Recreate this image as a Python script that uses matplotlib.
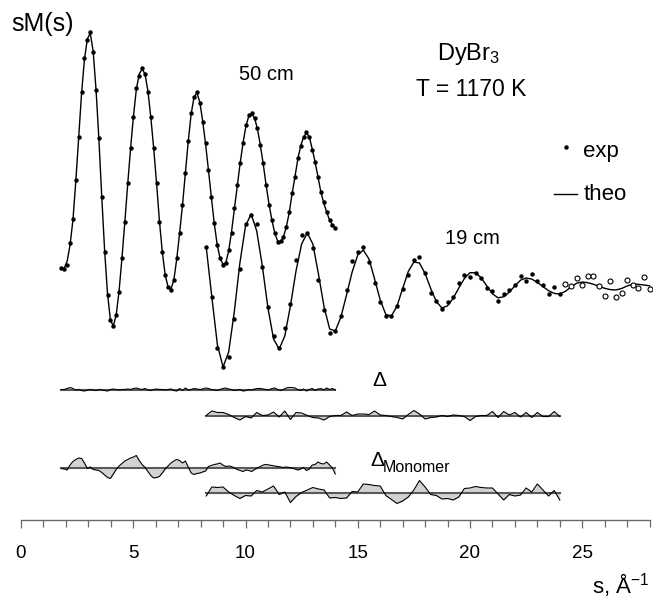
import numpy as np
import matplotlib.pyplot as plt
from matplotlib.lines import Line2D
from matplotlib.ticker import MultipleLocator

plt.rcParams['font.family'] = ['Liberation Sans', 'DejaVu Sans']
plt.rcParams['mathtext.fontset'] = 'custom'
plt.rcParams['mathtext.rm'] = 'Liberation Sans'
plt.rcParams['mathtext.it'] = 'Liberation Sans:italic'

W, H = 653, 599

# 50 cm camera distance, s = 1.8 .. 14.0
exp50 = [-8.3, -8.4, -8.0, -5.8, -3.4, 0.5, 4.8, 9.3, 12.7, 14.5,
         15.3, 13.3, 9.5, 4.7, -1.2, -6.7, -11.0, -13.5, -14.1, -13.0,
         -10.7, -7.3, -3.7, 0.2, 3.7, 6.8, 9.7, 10.9, 11.7, 11.1,
         9.3, 6.8, 3.7, 0.2, -3.7, -6.7, -9.0, -10.2, -10.5, -9.5,
         -7.3, -4.8, -2.0, 1.2, 4.4, 7.2, 8.8, 9.3, 8.2, 6.3,
         4.2, 1.5, -1.2, -3.8, -6.0, -7.3, -8.0, -7.8, -6.5, -4.8,
         -2.3, 0.0, 2.2, 4.2, 6.0, 7.0, 7.2, 6.7, 5.7, 4.0,
         2.2, 0.0, -2.0, -3.5, -4.8, -5.7, -5.6, -5.2, -4.2, -2.7,
         -0.8, 0.8, 2.7, 3.9, 4.8, 5.3, 4.8, 3.5, 2.3, 0.8,
         -0.7, -1.7, -2.7, -3.5, -4.0, -4.3]
theo50 = [-8.4, -8.3, -7.6, -6.0, -3.5, 0.4, 4.8, 9.2, 12.6, 14.6,
          15.2, 13.4, 9.6, 4.6, -1.2, -6.6, -10.9, -13.5, -14.1, -13.0,
          -10.6, -7.3, -3.7, 0.1, 3.7, 6.9, 9.6, 11.1, 11.6, 11.1,
          9.4, 6.8, 3.7, 0.2, -3.6, -6.7, -9.0, -10.2, -10.4, -9.5,
          -7.4, -4.8, -2.0, 1.2, 4.4, 7.1, 8.8, 9.2, 8.3, 6.4,
          4.1, 1.5, -1.2, -3.8, -5.9, -7.3, -7.9, -7.8, -6.6, -4.7,
          -2.4, -0.1, 2.2, 4.2, 5.9, 6.9, 7.1, 6.7, 5.6, 4.0,
          2.1, 0.0, -1.9, -3.5, -4.8, -5.6, -5.7, -5.2, -4.2, -2.8,
          -0.9, 0.8, 2.6, 3.9, 4.8, 5.2, 4.8, 3.6, 2.3, 0.8,
          -0.7, -1.8, -2.7, -3.5, -4.0, -4.3]

# 19 cm camera distance, s = 8.25 .. 28.0 (fit only up to s = 24)
exp19 = [3.9, -1.1, -6.2, -8.1, -7.1, -3.3, 1.7, 6.2, 7.1, 6.2,
         1.9, -2.1, -5.0, -6.2, -4.2, -1.8, 2.6, 5.1, 5.3, 3.8,
         0.6, -2.4, -4.7, -4.5, -3.0, -0.4, 2.5, 3.4, 3.9, 2.4,
         0.3, -1.6, -3.0, -3.0, -2.0, -0.3, 1.1, 2.6, 2.9, 1.3,
         -0.7, -1.5, -2.3, -1.6, -1.1, 0.3, 1.1, 0.9, 1.3, 0.8,
         -0.2, -0.5, -1.5, -0.8, -0.4, 0.1, 1.0, 0.5, 1.2, 0.5,
         0.1, -0.8, -0.1, -0.8, 0.2, 0.0, 0.8, 0.1, 1.0, 1.0,
         0.0, -1.0, 0.5, -1.1, -0.7, 0.6, 0.1, -0.2, 0.9, -0.3]
theo19 = [3.9, -1.1, -5.9, -8.1, -6.6, -2.6, 2.3, 6.0, 7.2, 5.5,
          2.0, -2.2, -5.3, -6.3, -5.0, -2.0, 1.5, 4.2, 5.3, 4.2,
          1.2, -2.1, -4.3, -4.5, -3.1, -0.9, 1.4, 3.1, 3.6, 2.7,
          0.7, -1.4, -2.85, -3.0, -2.0, -0.25, 1.45, 2.4, 2.3, 1.25,
          -0.25, -1.56, -2.2, -1.98, -1.23, -0.2, 0.75, 1.33, 1.33, 0.81,
          0.0, -0.78, -1.18, -1.08, -0.62, 0.03, 0.58, 0.8, 0.69, 0.37,
          -0.06, -0.47, -0.74, -0.8, -0.53, -0.1, 0.28, 0.4, 0.33, 0.17,
          -0.03, -0.23, -0.36, -0.4, -0.25, 0.0, 0.18, 0.17, 0.1, 0.02]
n_fit19 = 64

# residuals exp - theo
delta50 = [0.0, 0.0, 0.1, 0.2, 0.1, -0.05, 0.0, -0.1, -0.15, -0.05,
           0.0, -0.05, -0.1, 0.0, -0.05, -0.1, -0.15, 0.0, 0.05, 0.0,
           -0.05, 0.0, 0.0, 0.05, 0.0, 0.1, 0.15, 0.05, 0.0, 0.1,
           -0.05, -0.1, 0.0, 0.05, 0.0, 0.0, -0.05, 0.0, 0.05, -0.1,
           -0.15, 0.1, -0.1, 0.15, -0.05, 0.0, 0.1, 0.05, 0.0, 0.05,
           0.15, 0.1, 0.0, -0.05, -0.1, 0.0, 0.1, 0.15, 0.05, 0.0,
           -0.1, -0.05, 0.0, -0.15, -0.1, 0.0, -0.05, 0.05, 0.1, 0.1,
           0.05, 0.0, -0.05, 0.1, 0.15, 0.0, -0.1, 0.0, 0.15, 0.2,
           0.2, 0.15, 0.0, -0.1, 0.05, -0.15, 0.0, 0.1, -0.1, 0.05,
           0.1, -0.05, 0.15, 0.0, 0.1, -0.05]
delta19 = [0.0, 0.45, 0.3, 0.3, 0.1, -0.2, -0.45, -0.1, -0.25, 0.3,
           0.0, 0.05, 0.35, -0.15, 0.45, -0.4, 0.3, 0.25, 0.0, -0.2,
           -0.25, -0.45, -0.1, 0.0, 0.0, 0.35, 0.0, 0.15, 0.15, 0.1,
           0.45, 0.05, 0.0, -0.1, -0.2, -0.35, 0.1, 0.5, 0.15, -0.35,
           -0.2, -0.15, 0.0, -0.1, 0.05, 0.0, -0.1, -0.5, -0.1, 0.0,
           0.0, 0.4, -0.2, 0.4, 0.05, 0.3, -0.15, 0.3, -0.2, 0.3,
           -0.1, -0.1, 0.4, -0.1]
mono50 = [-0.05, -0.1, -0.2, 0.3, 0.65, 0.85, 1.0, 0.95, 0.5, -0.05,
          0.1, -0.15, -0.2, -0.25, -0.45, -0.7, -0.95, -1.05, -0.6, -0.15,
          0.2, 0.45, 0.7, 0.85, 1.0, 1.1, 1.25, 0.75, 0.35, 0.05,
          -0.35, -0.75, -1.0, -0.95, -0.85, -0.5, -0.1, 0.2, 0.5, 0.7,
          0.85, 0.75, 0.5, 0.7, 0.1, -0.5, -0.65, -0.55, -0.5, -0.4,
          -0.3, 0.15, 0.25, 0.35, 0.4, 0.5, 0.3, 0.15, 0.2, 0.15,
          0.0, -0.15, -0.25, -0.35, -0.2, -0.25, -0.35, -0.15, 0.0, 0.15,
          0.3, 0.35, 0.3, 0.25, 0.2, 0.15, 0.1, 0.05, 0.1, 0.05,
          0.0, -0.1, -0.2, -0.1, 0.05, -0.25, -0.1, 0.3, 0.35, 0.6,
          0.45, 0.4, 0.6, 0.3, 0.0, -0.6]
mono19 = [-0.3, 0.6, 0.55, 0.6, 0.1, -0.25, -0.55, -0.25, -0.3, 0.25,
          0.1, 0.4, 0.7, -0.15, 0.1, -0.95, -0.35, 0.05, 0.3, 0.55,
          0.4, 0.3, -0.5, -0.45, -0.55, -0.5, 0.15, 0.1, 0.9, 0.85,
          0.75, 0.7, -0.25, -0.65, -1.05, -0.8, -0.4, 0.3, 1.25, 0.6,
          -0.15, -0.25, -0.6, -0.55, -0.7, -0.4, 0.45, 0.5, 0.65, 0.55,
          0.5, 0.5, -0.1, -0.7, -0.15, -0.3, -0.2, 0.5, 0.1, 0.9,
          0.3, -0.3, 0.25, -0.7]

s50 = np.linspace(1.8, 14.0, len(exp50))
s19 = np.linspace(8.25, 28.0, len(exp19))

off50, off19 = 33.45, 23.35
base_d50, base_d19, base_m50, base_m19 = 13.0, 10.4, 5.15, 2.65

fig = plt.figure(figsize=(W / 100, H / 100), dpi=100)
ax = fig.add_axes([21 / W, 1 - 519.5 / H, 628.6 / W, 519.5 / H])
ax.set_xlim(0, 28)
ax.set_ylim(0, 51.95)


def curve(s, exp, theo, off, nfit):
    ax.plot(s, off + np.array(theo), color='k', lw=1.0, clip_on=False)
    ax.plot(s[:nfit], off + np.array(exp[:nfit]), 'o', color='k', ms=3.2,
            mew=0, clip_on=False)
    if nfit < len(s):
        ax.plot(s[nfit:], off + np.array(exp[nfit:]), 'o', mfc='white',
                mec='k', ms=3.6, mew=0.8, clip_on=False)


def residual(s, d, base):
    y = base + np.array(d)
    ax.fill_between(s, base, y, color='#d2d2d2', lw=0)
    ax.plot([s[0], s[-1]], [base, base], color='#5a5a5a', lw=1.5)
    ax.plot(s, y, color='k', lw=0.8)


curve(s50, exp50, theo50, off50, len(s50))
curve(s19, exp19, theo19, off19, n_fit19)

residual(s50, delta50, base_d50)
residual(s19[:n_fit19], delta19, base_d19)
residual(s50, mono50, base_m50)
residual(s19[:n_fit19], mono19, base_m19)

for side in ['top', 'left', 'right']:
    ax.spines[side].set_visible(False)
ax.spines['bottom'].set_color('#6a6a6a')
ax.spines['bottom'].set_linewidth(1.0)
ax.set_yticks([])
ax.set_xticks(range(0, 26, 5))
ax.xaxis.set_minor_locator(MultipleLocator(1))
ax.tick_params(axis='x', which='both', direction='out', color='#6a6a6a',
               width=0.9, labelsize=13.5, pad=13)
ax.tick_params(axis='x', which='major', length=5.5)
ax.tick_params(axis='x', which='minor', length=5)


def ftxt(x, y, s, **kw):
    fig.text(x / W, 1 - y / H, s, **kw)


ftxt(11, 24, 'sM(s)', fontsize=18, va='center', ha='left')
ftxt(266, 74, '50 cm', fontsize=14.5, va='center', ha='center')
ftxt(437, 60, r'DyBr$_\mathregular{3}$', fontsize=17, va='baseline', ha='left')
ftxt(471, 89, 'T = 1170 K', fontsize=16.5, va='center', ha='center')
ftxt(472, 239, '19 cm', fontsize=14.5, va='center', ha='center')
ftxt(583, 151, 'exp', fontsize=16, va='center', ha='left')
ftxt(584, 195, 'theo', fontsize=16, va='center', ha='left')
fig.add_artist(Line2D([566 / W], [1 - 147 / H], marker='o', color='k', ms=3.2,
                      mew=0, transform=fig.transFigure))
fig.add_artist(Line2D([554 / W, 577 / W], [1 - 194 / H, 1 - 194 / H], color='k',
                      lw=1.0, transform=fig.transFigure))
ftxt(372, 381, '\u0394', fontsize=15, va='center', ha='left')
ftxt(370, 461, '\u0394', fontsize=15, va='center', ha='left')
ftxt(383, 467, 'Monomer', fontsize=11.5, va='center', ha='left')
ftxt(649, 585, r's, Å$^{-1}$', fontsize=16, va='center', ha='right')

fig.savefig('out.png', dpi=100)
